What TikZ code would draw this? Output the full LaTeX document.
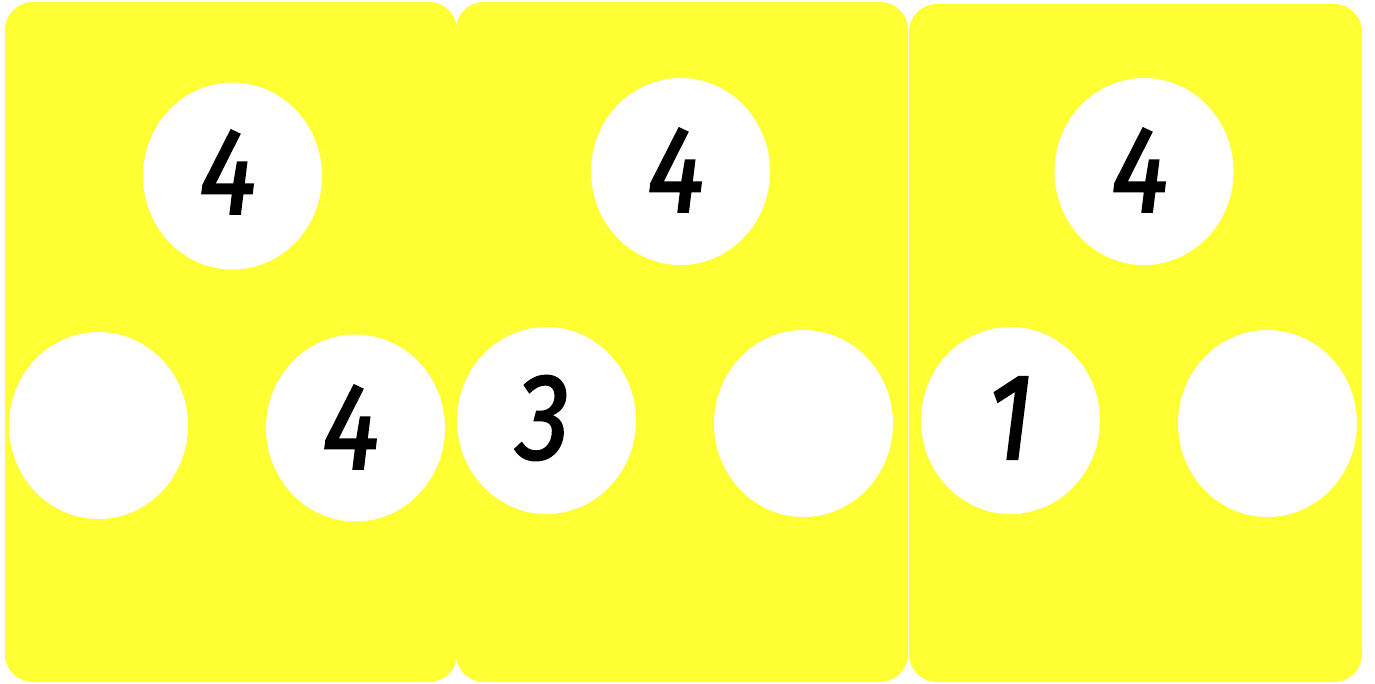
\documentclass[tikz,border=0pt]{standalone}
\usepackage{fontspec}
\setmainfont{Fira Sans}
\newfontfamily\digitfont{Fira Sans Italic}[FakeBold=1.6, FakeStretch=0.88]
\usetikzlibrary{shapes.geometric}
\definecolor{cardyellow}{RGB}{255,255,51}
\tikzset{
  card/.style={fill=cardyellow, draw=none, rounded corners=28pt},
  hole/.style={ellipse, fill=white, draw=none, minimum width=179pt, minimum height=187pt, inner sep=0pt},
  digit/.style={inner sep=0pt, font=\digitfont\fontsize{123}{123}\selectfont, text=black}
}
\begin{document}
\begin{tikzpicture}[x=1pt,y=-1pt]
\useasboundingbox (0,0) rectangle (1375,683);
% cards
\path[card] (5,2) rectangle (457,682);
\path[card] (456,2) rectangle (908,682);
\path[card] (909,4) rectangle (1362,682);
% holes card 1
\node[hole] (h1t) at (232.5,176) {};
\node[hole] (h1l) at (98.5,425.5) {};
\node[hole] (h1r) at (355.5,428) {};
% holes card 2
\node[hole] (h2t) at (680.5,171.5) {};
\node[hole] (h2l) at (546.5,420.5) {};
\node[hole] (h2r) at (803.5,423.5) {};
% holes card 3
\node[hole] (h3t) at (1144,171.5) {};
\node[hole] (h3l) at (1010.5,420.5) {};
\node[hole] (h3r) at (1267.5,423.5) {};
% digits
\node[digit] (d1t) at (228,172) {4};
\node[digit] (d1r) at (351,427) {4};
\node[digit] (d2t) at (676,170) {4};
\node[digit] (d2l) at (543,418) {3};
\node[digit] (d3t) at (1140,170) {4};
\node[digit] (d3l) at (1010,418) {1};
\end{tikzpicture}
\end{document}
